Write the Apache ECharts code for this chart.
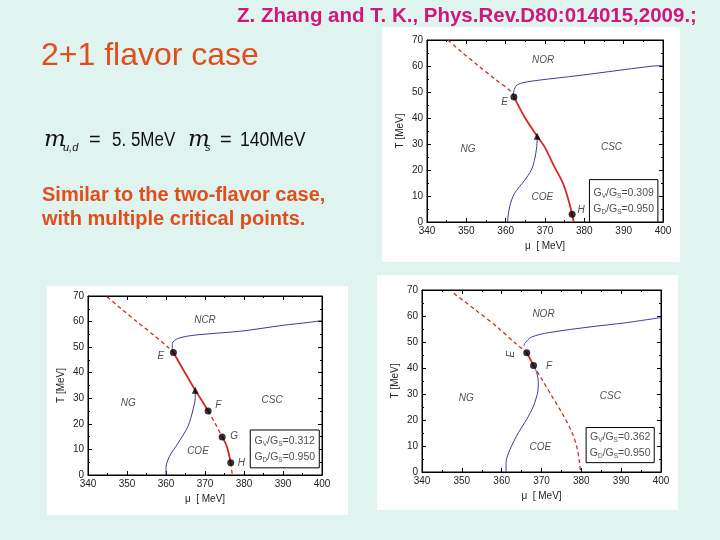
<!DOCTYPE html>
<html><head><meta charset="utf-8">
<script src="https://cdn.jsdelivr.net/npm/echarts@6/dist/echarts.min.js"></script>
<style>html,body{margin:0;padding:0;background:#dff3ef;}#c{width:720px;height:540px;}</style>
</head><body><div id="c"></div>
<script>
// ---------- data ----------
const xMin = 340, xMax = 400, xStep = 10;
const yMin = 0, yMax = 70, yStep = 10;

// Chart 1 : Gv/Gs = 0.309
const c1RedDashed = [[345.3,70],[348.7,65.5],[352.9,60.3],[357.1,55.2],[361.4,50.1],[362.1,48.1]];
const c1RedSolid = [[362.1,48.1],[364.8,40.4],[368.0,33.0],[369.9,28.9],[372.4,21.2],[374.6,14.8],[376.0,8.3],[376.9,3.0],[377.3,0]];
const c1BlueUpper = [[362.0,48.5],[362.1,50.5],[362.7,52.4],[364.2,53.5],[368.2,54.5],[378.4,56.3],[388.6,58.3],[395.3,59.6],[398.7,60.1],[400,60.1]];
const c1BlueLower = [[368.0,33.0],[367.9,29.0],[367.3,23.7],[366.5,19.9],[364.8,16.0],[362.2,10.9],[361.0,5.8],[360.6,2.0],[360.5,0]];
const c1Circles = [[362.1,48.1],[376.9,3.0]];
const c1Triangles = [[368.0,33.0]];
const c1Labels = [[369.5,62.3,'NOR'],[350.4,27.9,'NG'],[386.9,28.9,'CSC'],[369.3,9.4,'COE'],[359.7,46.2,'E'],[379.2,4.7,'H']];
const c1Box = [381.3,16.3,398.7,0];
const c1Legend = ['0.309','0.950'];

// Chart 2 : Gv/Gs = 0.312
const c2RedDashed1 = [[344.9,69.7],[348.5,65.0],[352.5,60.0],[357.0,54.5],[360.5,50.0],[361.9,47.9]];
const c2RedSolid1 = [[361.9,47.9],[364.8,40.2],[367.5,33.1],[369.1,29.3],[370.8,25.0]];
const c2RedDashed2 = [[370.8,25.0],[372.6,20.2],[374.4,14.9]];
const c2RedSolid2 = [[374.4,14.9],[375.6,11.2],[376.6,4.8]];
const c2RedDashed3 = [[376.6,4.8],[377.0,0]];
const c2BlueUpper = [[361.6,48.0],[361.6,51.4],[363.1,53.4],[367.4,54.7],[379.5,56.3],[389.8,58.5],[396.7,59.7],[400,60.4]];
const c2BlueLower = [[367.5,33.1],[367.5,30.5],[366.9,25.4],[365.6,18.9],[363.1,12.5],[360.9,7.3],[360.0,2.8],[360.0,0]];
const c2Circles = [[361.9,47.9],[370.8,25.0],[374.4,14.9],[376.6,4.8]];
const c2Triangles = [[367.5,33.1]];
const c2Labels = [[370.0,60.7,'NCR'],[350.3,27.9,'NG'],[387.2,29.2,'CSC'],[368.2,9.3,'COE'],[358.7,46.6,'E'],[373.4,27.3,'F'],[377.5,15.3,'G'],[379.3,4.8,'H']];
const c2Box = [381.6,17.6,399.3,2.8];
const c2Legend = ['0.312','0.950'];

// Chart 3 : Gv/Gs = 0.362
const c3RedDashed1 = [[348.0,68.7],[353.2,62.6],[359.1,55.5],[363.3,49.7],[366.3,45.9]];
const c3RedSolid = [[366.3,45.9],[368.0,41.0]];
const c3RedDashed2 = [[368.0,41.0],[370.1,35.6],[372.6,29.2],[375.1,22.8],[377.7,15.1],[378.9,9.4],[379.5,4.2],[379.8,0]];
const c3BlueUpper = [[365.6,48.5],[365.9,49.7],[367.5,51.9],[371.8,53.6],[382.7,55.9],[391.1,57.4],[400,59.4]];
const c3BlueLower = [[368.0,41.0],[368.8,38.2],[369.2,34.4],[369.1,31.2],[368.0,25.4],[366.3,20.3],[364.2,15.1],[362.1,8.7],[361.1,3.6],[361.1,0]];
const c3Circles = [[366.3,45.9],[368.0,41.0]];
const c3Triangles = [];
const c3Labels = [[370.5,60.6,'NOR'],[351.1,28.2,'NG'],[387.3,29.0,'CSC'],[369.7,9.4,'COE'],[371.9,40.8,'F']];
const c3LabelsRot = [[362.5,45.3,'E']];
const c3Box = [381.2,17.1,398.3,3.6];
const c3Legend = ['0.362','0.950'];

// ---------- layout ----------
const grids = [
  {left:427, top:40, width:236, height:182},
  {left:88, top:296, width:234, height:179},
  {left:422, top:290, width:239, height:182}
];
const panels = [[382,27,298,235],[47,286,301,229],[377,275,301,235]];

const RED = '#d42a22', BLUE = '#3b3b9e';
const FONT = 'Liberation Sans, Arial, sans-serif';
const ORANGE = '#e04e1b';

const option = {
  backgroundColor: '#dff3ef',
  animation: false,
  grid: [], xAxis: [], yAxis: [], series: [],
  graphic: []
};

panels.forEach(p => option.graphic.push({type:'rect', z:-10, shape:{x:p[0],y:p[1],width:p[2],height:p[3]}, style:{fill:'#ffffff'}}));

const txt = (x, y, text, font, fill, sx) => ({type:'text', z:10, x:x, y:y, scaleX:sx || 1, style:{x:0, y:0, text:text, font:font, fill:fill, textVerticalAlign:'middle'}});
option.graphic.push(
  txt(237, 16, 'Z. Zhang and T. K., Phys.Rev.D80:014015,2009.;', 'bold 20.5px '+FONT, '#d0187a'),
  txt(41, 56, '2+1 flavor case', '32px '+FONT, ORANGE),
  txt(44, 140, 'm', 'italic 23px "DejaVu Serif", serif', '#111'),
  txt(63, 148, 'u,d', 'italic 11px '+FONT, '#111'),
  txt(89, 140, '=', '20px '+FONT, '#111'),
  txt(112, 140, '5. 5MeV', '20px '+FONT, '#111', 0.85),
  txt(188, 140, 'm', 'italic 23px "DejaVu Serif", serif', '#111'),
  txt(205, 148, 's', 'italic 11px '+FONT, '#111'),
  txt(220, 140, '=', '20px '+FONT, '#111'),
  txt(240, 140, '140MeV', '20px '+FONT, '#111', 0.88),
  txt(42, 195, 'Similar to the two-flavor case,', 'bold 20px '+FONT, ORANGE),
  txt(42, 219, 'with multiple critical points.', 'bold 20px '+FONT, ORANGE)
);

function addChart(i, cfg) {
  option.grid.push(Object.assign({containLabel:false, show:true, borderColor:'#000', borderWidth:1, backgroundColor:'transparent'}, grids[i]));
  const axisCommon = {
    axisLine:{show:true, onZero:false, lineStyle:{color:'#000', width:1}},
    axisTick:{show:true, inside:true, length:4, lineStyle:{color:'#000'}},
    minorTick:{show:true, splitNumber:2, length:2, lineStyle:{color:'#000'}},
    splitLine:{show:false},
    gridIndex:i
  };
  const xb = option.xAxis.length;
  option.xAxis.push(Object.assign({}, axisCommon, {type:'value', position:'bottom', min:xMin, max:xMax, interval:xStep,
    axisLabel:{fontSize:10, fontFamily:FONT, color:'#222', margin:4},
    name:'\u03bc  [ MeV]', nameLocation:'middle', nameGap:19, nameTextStyle:{fontSize:10, fontFamily:FONT, color:'#222'}}));
  option.xAxis.push(Object.assign({}, axisCommon, {type:'value', position:'top', min:xMin, max:xMax, interval:xStep, axisLabel:{show:false}}));
  const yb = option.yAxis.length;
  option.yAxis.push(Object.assign({}, axisCommon, {type:'value', position:'left', min:yMin, max:yMax, interval:yStep,
    axisLabel:{fontSize:10, fontFamily:FONT, color:'#222', margin:4},
    name:'T [MeV]', nameLocation:'middle', nameGap:22, nameRotate:90, nameTextStyle:{fontSize:10, fontFamily:FONT, color:'#222'}}));
  option.yAxis.push(Object.assign({}, axisCommon, {type:'value', position:'right', min:yMin, max:yMax, interval:yStep, axisLabel:{show:false}}));

  const line = (data, color, type, width) => option.series.push({
    type:'line', xAxisIndex:xb, yAxisIndex:yb, data:data, smooth:0.3, symbol:'none',
    lineStyle:{color:color, width:width, type:type}, z:3
  });
  cfg.redDashed.forEach(d => line(d, RED, [4,3], 1.3));
  cfg.redSolid.forEach(d => line(d, RED, 'solid', 1.8));
  cfg.blue.forEach(d => line(d, BLUE, 'solid', 1));

  option.series.push({type:'scatter', xAxisIndex:xb, yAxisIndex:yb, data:cfg.circles, symbol:'circle', symbolSize:7, itemStyle:{color:'#000'}, z:5});
  option.series.push({type:'scatter', xAxisIndex:xb, yAxisIndex:yb, data:cfg.triangles, symbol:'triangle', symbolSize:7, itemStyle:{color:'#000'}, z:5});

  option.series.push({type:'scatter', xAxisIndex:xb, yAxisIndex:yb, symbolSize:0, z:6,
    data:cfg.labels.map(l => ({value:[l[0],l[1]], name:l[2]})),
    label:{show:true, position:'inside', formatter:p=>p.name, fontSize:10, fontStyle:'italic', fontFamily:FONT, color:'#222'}});
  if (cfg.labelsRot) option.series.push({type:'scatter', xAxisIndex:xb, yAxisIndex:yb, symbolSize:0, z:6,
    data:cfg.labelsRot.map(l => ({value:[l[0],l[1]], name:l[2]})),
    label:{show:true, position:'inside', rotate:90, formatter:p=>p.name, fontSize:10, fontStyle:'italic', fontFamily:FONT, color:'#222'}});

  const b = cfg.box;
  option.series.push({type:'scatter', xAxisIndex:xb, yAxisIndex:yb, symbolSize:0, z:7,
    data:[{value:[(b[0]+b[2])/2,(b[1]+b[3])/2], name:'leg'}],
    label:{show:true, position:'inside', fontSize:10.5, fontFamily:FONT, color:'#222', lineHeight:16,
      formatter:'G{s|V}/G{s|S}=' + cfg.legend[0] + '\nG{s|D}/G{s|S}=' + cfg.legend[1],
      rich:{s:{fontSize:6.5, fontFamily:FONT, color:'#222', padding:[6,0,0,0]}}},
    markArea:{silent:true, itemStyle:{color:'#fff', borderColor:'#000', borderWidth:1}, data:[[{coord:[b[0],b[1]]},{coord:[b[2],b[3]]}]]}
  });
}

addChart(0, {redDashed:[c1RedDashed], redSolid:[c1RedSolid], blue:[c1BlueUpper,c1BlueLower], circles:c1Circles, triangles:c1Triangles, labels:c1Labels, box:c1Box, legend:c1Legend});
addChart(1, {redDashed:[c2RedDashed1,c2RedDashed2,c2RedDashed3], redSolid:[c2RedSolid1,c2RedSolid2], blue:[c2BlueUpper,c2BlueLower], circles:c2Circles, triangles:c2Triangles, labels:c2Labels, box:c2Box, legend:c2Legend});
addChart(2, {redDashed:[c3RedDashed1,c3RedDashed2], redSolid:[c3RedSolid], blue:[c3BlueUpper,c3BlueLower], circles:c3Circles, triangles:c3Triangles, labels:c3Labels, labelsRot:c3LabelsRot, box:c3Box, legend:c3Legend});

const chart = echarts.init(document.getElementById('c'));
chart.setOption(option);
</script></body></html>
